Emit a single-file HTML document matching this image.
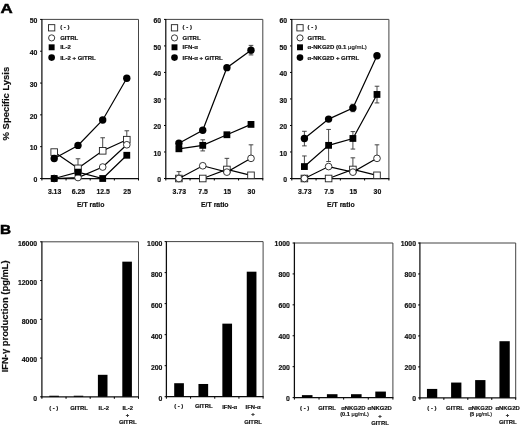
<!DOCTYPE html>
<html lang="en"><head><meta charset="utf-8"><title>Figure</title>
<style>
html,body{margin:0;padding:0;background:#fff;}
body{width:520px;height:425px;overflow:hidden;}
svg{display:block;}
text{font-family:"Liberation Sans", sans-serif;font-weight:bold;fill:#111;stroke:#111;stroke-width:0.18px;}
.tk{font-size:6.9px;}
.xl{font-size:6.9px;}
.lg{font-size:6px;}
.bl{font-size:5.9px;}
.bs{font-size:5.6px;}
.bs2{font-size:5.2px;}
.pl{font-size:13.4px;fill:#000;stroke:#000;stroke-width:0.5px;}
.ax{font-size:9.2px;}
</style></head><body>
<svg width="520" height="425" viewBox="0 0 520 425">
<defs><filter id="soft" x="0" y="0" width="520" height="425" filterUnits="userSpaceOnUse"><feGaussianBlur stdDeviation="0.4"/></filter></defs>
<rect width="520" height="425" fill="#fff"/>
<g filter="url(#soft)">
<text transform="translate(0.4 12.5) scale(1.26 1)" class="pl">A</text>
<text transform="translate(0.1 234.4) scale(1.14 1)" class="pl">B</text>
<text transform="translate(8.5 103.6) rotate(-90)" text-anchor="middle" class="ax" style="font-size:9.45px">% Specific Lysis</text>
<text transform="translate(8.0 316.3) rotate(-90)" text-anchor="middle" class="ax" style="font-size:9.4px">IFN-γ production (pg/mL)</text>
<path d="M41.9 19.4H138.5V178.5" fill="none" stroke="#444" stroke-width="1"/>
<path d="M41.9 19V178.5H139" fill="none" stroke="#111" stroke-width="1.25"/>
<path d="M40.1 178.5H41.9M40.1 146.68H41.9M40.1 114.86H41.9M40.1 83.04H41.9M40.1 51.22H41.9M40.1 19.4H41.9M41.9 178.5V180.5M66.05 178.5V180.5M90.2 178.5V180.5M114.35 178.5V180.5M138.5 178.5V180.5" stroke="#000" stroke-width="1" fill="none"/>
<text x="37.3" y="182.25" text-anchor="end" class="tk">0</text>
<text x="37.3" y="150.43" text-anchor="end" class="tk">10</text>
<text x="37.3" y="118.61" text-anchor="end" class="tk">20</text>
<text x="37.3" y="86.79" text-anchor="end" class="tk">30</text>
<text x="37.3" y="54.97" text-anchor="end" class="tk">40</text>
<text x="37.3" y="23.15" text-anchor="end" class="tk">50</text>
<text x="54.6" y="194.1" text-anchor="middle" class="xl">3.13</text>
<text x="78.4" y="194.1" text-anchor="middle" class="xl">6.25</text>
<text x="103.1" y="194.1" text-anchor="middle" class="xl">12.5</text>
<text x="127.2" y="194.1" text-anchor="middle" class="xl">25</text>
<text x="90.7" y="207.3" text-anchor="middle" class="xl">E/T ratio</text>
<path d="M78 168.32V158.77M75.7 158.77H80.3M102.7 150.82V137.77M100.4 137.77H105M126.8 139.68V130.77M124.5 130.77H129.1" stroke="#333" stroke-width="0.9" fill="none"/>
<polyline points="54.2,152.09 78,168.32 102.7,150.82 126.8,139.68" fill="none" stroke="#000" stroke-width="1.2"/>
<rect x="50.9" y="148.79" width="6.6" height="6.6" fill="#fff" stroke="#222" stroke-width="0.9"/>
<rect x="74.7" y="165.02" width="6.6" height="6.6" fill="#fff" stroke="#222" stroke-width="0.9"/>
<rect x="99.4" y="147.52" width="6.6" height="6.6" fill="#fff" stroke="#222" stroke-width="0.9"/>
<rect x="123.5" y="136.38" width="6.6" height="6.6" fill="#fff" stroke="#222" stroke-width="0.9"/>
<polyline points="54.2,178.5 78,177.55 102.7,167.04 126.8,144.77" fill="none" stroke="#000" stroke-width="1.2"/>
<circle cx="54.2" cy="178.5" r="3.35" fill="#fff" stroke="#222" stroke-width="0.9"/>
<circle cx="78" cy="177.55" r="3.35" fill="#fff" stroke="#222" stroke-width="0.9"/>
<circle cx="102.7" cy="167.04" r="3.35" fill="#fff" stroke="#222" stroke-width="0.9"/>
<circle cx="126.8" cy="144.77" r="3.35" fill="#fff" stroke="#222" stroke-width="0.9"/>
<polyline points="54.2,178.5 78,172.14 102.7,178.5 126.8,155.27" fill="none" stroke="#000" stroke-width="1.2"/>
<rect x="50.8" y="175.1" width="6.8" height="6.8" fill="#000"/>
<rect x="74.6" y="168.74" width="6.8" height="6.8" fill="#000"/>
<rect x="99.3" y="175.1" width="6.8" height="6.8" fill="#000"/>
<rect x="123.4" y="151.87" width="6.8" height="6.8" fill="#000"/>
<polyline points="54.2,158.45 78,145.41 102.7,119.95 126.8,78.27" fill="none" stroke="#000" stroke-width="1.2"/>
<circle cx="54.2" cy="158.45" r="3.7" fill="#000"/>
<circle cx="78" cy="145.41" r="3.7" fill="#000"/>
<circle cx="102.7" cy="119.95" r="3.7" fill="#000"/>
<circle cx="126.8" cy="78.27" r="3.7" fill="#000"/>
<rect x="48.52" y="24.66" width="6.27" height="6.27" fill="#fff" stroke="#222" stroke-width="0.9"/>
<text x="60.2" y="28.7" class="lg">( - )</text>
<circle cx="51.65" cy="37.9" r="3.08" fill="#fff" stroke="#222" stroke-width="0.9"/>
<text x="60.2" y="40.05" class="lg">GITRL</text>
<rect x="48.69" y="44.34" width="5.92" height="5.92" fill="#000"/>
<text x="60.2" y="49.45" class="lg">IL-2</text>
<circle cx="51.65" cy="57.6" r="3.33" fill="#000"/>
<text x="60.2" y="59.75" class="lg">IL-2 + GITRL</text>
<path d="M165.8 19.4H262.8V178.5" fill="none" stroke="#444" stroke-width="1"/>
<path d="M165.8 19V178.5H263.3" fill="none" stroke="#111" stroke-width="1.25"/>
<path d="M164 178.5H165.8M164 151.98H165.8M164 125.47H165.8M164 98.95H165.8M164 72.43H165.8M164 45.92H165.8M164 19.4H165.8M165.8 178.5V180.5M190.05 178.5V180.5M214.3 178.5V180.5M238.55 178.5V180.5M262.8 178.5V180.5" stroke="#000" stroke-width="1" fill="none"/>
<text x="161.2" y="182.25" text-anchor="end" class="tk">0</text>
<text x="161.2" y="155.73" text-anchor="end" class="tk">10</text>
<text x="161.2" y="129.22" text-anchor="end" class="tk">20</text>
<text x="161.2" y="102.7" text-anchor="end" class="tk">30</text>
<text x="161.2" y="76.18" text-anchor="end" class="tk">40</text>
<text x="161.2" y="49.67" text-anchor="end" class="tk">50</text>
<text x="161.2" y="23.15" text-anchor="end" class="tk">60</text>
<text x="179.3" y="194.1" text-anchor="middle" class="xl">3.73</text>
<text x="203.15" y="194.1" text-anchor="middle" class="xl">7.5</text>
<text x="227.3" y="194.1" text-anchor="middle" class="xl">15</text>
<text x="251.4" y="194.1" text-anchor="middle" class="xl">30</text>
<text x="214.8" y="207.3" text-anchor="middle" class="xl">E/T ratio</text>
<path d="M178.9 178.5V171.61M176.6 171.61H181.2M202.75 145.35V139.79M200.45 139.79H205.05M202.75 145.35V150.92M200.45 150.92H205.05M226.9 169.48V158.35M224.6 158.35H229.2M251 158.35V144.82M248.7 144.82H253.3M251 50.16V45.39M248.7 45.39H253.3M251 50.16V54.93M248.7 54.93H253.3" stroke="#333" stroke-width="0.9" fill="none"/>
<polyline points="178.9,178.5 202.75,178.5 226.9,169.48 251,175.32" fill="none" stroke="#000" stroke-width="1.2"/>
<rect x="175.6" y="175.2" width="6.6" height="6.6" fill="#fff" stroke="#222" stroke-width="0.9"/>
<rect x="199.45" y="175.2" width="6.6" height="6.6" fill="#fff" stroke="#222" stroke-width="0.9"/>
<rect x="223.6" y="166.18" width="6.6" height="6.6" fill="#fff" stroke="#222" stroke-width="0.9"/>
<rect x="247.7" y="172.02" width="6.6" height="6.6" fill="#fff" stroke="#222" stroke-width="0.9"/>
<polyline points="178.9,178.5 202.75,165.77 226.9,172.14 251,158.35" fill="none" stroke="#000" stroke-width="1.2"/>
<circle cx="178.9" cy="178.5" r="3.35" fill="#fff" stroke="#222" stroke-width="0.9"/>
<circle cx="202.75" cy="165.77" r="3.35" fill="#fff" stroke="#222" stroke-width="0.9"/>
<circle cx="226.9" cy="172.14" r="3.35" fill="#fff" stroke="#222" stroke-width="0.9"/>
<circle cx="251" cy="158.35" r="3.35" fill="#fff" stroke="#222" stroke-width="0.9"/>
<polyline points="178.9,148.8 202.75,145.35 226.9,134.75 251,124.41" fill="none" stroke="#000" stroke-width="1.2"/>
<rect x="175.5" y="145.4" width="6.8" height="6.8" fill="#000"/>
<rect x="199.35" y="141.95" width="6.8" height="6.8" fill="#000"/>
<rect x="223.5" y="131.35" width="6.8" height="6.8" fill="#000"/>
<rect x="247.6" y="121.01" width="6.8" height="6.8" fill="#000"/>
<polyline points="178.9,143.23 202.75,130.24 226.9,67.66 251,50.16" fill="none" stroke="#000" stroke-width="1.2"/>
<circle cx="178.9" cy="143.23" r="3.7" fill="#000"/>
<circle cx="202.75" cy="130.24" r="3.7" fill="#000"/>
<circle cx="226.9" cy="67.66" r="3.7" fill="#000"/>
<circle cx="251" cy="50.16" r="3.7" fill="#000"/>
<rect x="171.37" y="24.66" width="6.27" height="6.27" fill="#fff" stroke="#222" stroke-width="0.9"/>
<text x="182.6" y="28.7" class="lg">( - )</text>
<circle cx="174.5" cy="37.9" r="3.08" fill="#fff" stroke="#222" stroke-width="0.9"/>
<text x="182.6" y="40.05" class="lg">GITRL</text>
<rect x="171.54" y="44.34" width="5.92" height="5.92" fill="#000"/>
<text x="182.6" y="49.45" class="lg">IFN-α</text>
<circle cx="174.5" cy="57.6" r="3.33" fill="#000"/>
<text x="182.6" y="59.75" class="lg">IFN-α + GITRL</text>
<path d="M291.8 19.4H388.9V178.5" fill="none" stroke="#444" stroke-width="1"/>
<path d="M291.8 19V178.5H389.4" fill="none" stroke="#111" stroke-width="1.25"/>
<path d="M290 178.5H291.8M290 151.98H291.8M290 125.47H291.8M290 98.95H291.8M290 72.43H291.8M290 45.92H291.8M290 19.4H291.8M291.8 178.5V180.5M316.07 178.5V180.5M340.35 178.5V180.5M364.62 178.5V180.5M388.9 178.5V180.5" stroke="#000" stroke-width="1" fill="none"/>
<text x="287.2" y="182.25" text-anchor="end" class="tk">0</text>
<text x="287.2" y="155.73" text-anchor="end" class="tk">10</text>
<text x="287.2" y="129.22" text-anchor="end" class="tk">20</text>
<text x="287.2" y="102.7" text-anchor="end" class="tk">30</text>
<text x="287.2" y="76.18" text-anchor="end" class="tk">40</text>
<text x="287.2" y="49.67" text-anchor="end" class="tk">50</text>
<text x="287.2" y="23.15" text-anchor="end" class="tk">60</text>
<text x="304.8" y="194.1" text-anchor="middle" class="xl">3.73</text>
<text x="329" y="194.1" text-anchor="middle" class="xl">7.5</text>
<text x="353.3" y="194.1" text-anchor="middle" class="xl">15</text>
<text x="377.4" y="194.1" text-anchor="middle" class="xl">30</text>
<text x="340.85" y="207.3" text-anchor="middle" class="xl">E/T ratio</text>
<path d="M304.4 138.46V131.3M302.1 131.3H306.7M304.4 138.46V145.88M302.1 145.88H306.7M304.4 166.57V155.96M302.1 155.96H306.7M328.6 145.35V129.44M326.3 129.44H330.9M328.6 145.35V161.53M326.3 161.53H330.9M352.9 138.46V131.57M350.6 131.57H355.2M352.9 138.46V149.07M350.6 149.07H355.2M352.9 107.97V104.25M350.6 104.25H355.2M352.9 107.97V111.68M350.6 111.68H355.2M352.9 169.48V157.82M350.6 157.82H355.2M377 158.35V144.82M374.7 144.82H379.3M377 94.44V86.22M374.7 86.22H379.3M377 94.44V102.93M374.7 102.93H379.3" stroke="#333" stroke-width="0.9" fill="none"/>
<polyline points="304.4,178.5 328.6,178.5 352.9,169.48 377,175.32" fill="none" stroke="#000" stroke-width="1.2"/>
<rect x="301.1" y="175.2" width="6.6" height="6.6" fill="#fff" stroke="#222" stroke-width="0.9"/>
<rect x="325.3" y="175.2" width="6.6" height="6.6" fill="#fff" stroke="#222" stroke-width="0.9"/>
<rect x="349.6" y="166.18" width="6.6" height="6.6" fill="#fff" stroke="#222" stroke-width="0.9"/>
<rect x="373.7" y="172.02" width="6.6" height="6.6" fill="#fff" stroke="#222" stroke-width="0.9"/>
<polyline points="304.4,178.5 328.6,166.57 352.9,172.14 377,158.35" fill="none" stroke="#000" stroke-width="1.2"/>
<circle cx="304.4" cy="178.5" r="3.35" fill="#fff" stroke="#222" stroke-width="0.9"/>
<circle cx="328.6" cy="166.57" r="3.35" fill="#fff" stroke="#222" stroke-width="0.9"/>
<circle cx="352.9" cy="172.14" r="3.35" fill="#fff" stroke="#222" stroke-width="0.9"/>
<circle cx="377" cy="158.35" r="3.35" fill="#fff" stroke="#222" stroke-width="0.9"/>
<polyline points="304.4,166.57 328.6,145.35 352.9,138.46 377,94.44" fill="none" stroke="#000" stroke-width="1.2"/>
<rect x="301" y="163.17" width="6.8" height="6.8" fill="#000"/>
<rect x="325.2" y="141.95" width="6.8" height="6.8" fill="#000"/>
<rect x="349.5" y="135.06" width="6.8" height="6.8" fill="#000"/>
<rect x="373.6" y="91.04" width="6.8" height="6.8" fill="#000"/>
<polyline points="304.4,138.46 328.6,119.1 352.9,107.97 377,55.73" fill="none" stroke="#000" stroke-width="1.2"/>
<circle cx="304.4" cy="138.46" r="3.7" fill="#000"/>
<circle cx="328.6" cy="119.1" r="3.7" fill="#000"/>
<circle cx="352.9" cy="107.97" r="3.7" fill="#000"/>
<circle cx="377" cy="55.73" r="3.7" fill="#000"/>
<rect x="296.87" y="24.66" width="6.27" height="6.27" fill="#fff" stroke="#222" stroke-width="0.9"/>
<text x="307.6" y="28.7" class="lg">( - )</text>
<circle cx="300" cy="37.9" r="3.08" fill="#fff" stroke="#222" stroke-width="0.9"/>
<text x="307.6" y="40.05" class="lg">GITRL</text>
<rect x="297.04" y="44.34" width="5.92" height="5.92" fill="#000"/>
<text x="307.6" y="49.45" class="lg">α-NKG2D (0.1 <tspan style="font-weight:normal">μg/mL)</tspan></text>
<circle cx="300" cy="57.6" r="3.33" fill="#000"/>
<text x="307.6" y="59.75" class="lg">α-NKG2D + GITRL</text>
<path d="M41.9 241.8H138.5V396.8" fill="none" stroke="#444" stroke-width="1"/>
<path d="M41.9 241.4V396.8H139" fill="none" stroke="#111" stroke-width="1.25"/>
<path d="M40.1 396.8H41.9M40.1 358.05H41.9M40.1 319.3H41.9M40.1 280.55H41.9M40.1 241.8H41.9M41.9 396.8V398.8M66.05 396.8V398.8M90.2 396.8V398.8M114.35 396.8V398.8M138.5 396.8V398.8" stroke="#000" stroke-width="1" fill="none"/>
<text x="37.1" y="401.15" text-anchor="end" class="tk">0</text>
<text x="37.1" y="362.4" text-anchor="end" class="tk">4000</text>
<text x="37.1" y="323.65" text-anchor="end" class="tk">8000</text>
<text x="37.1" y="284.9" text-anchor="end" class="tk">12000</text>
<text x="37.1" y="246.15" text-anchor="end" class="tk">16000</text>
<rect x="49.3" y="395.73" width="9.6" height="1.07" fill="#000"/>
<rect x="73.7" y="395.73" width="9.6" height="1.07" fill="#000"/>
<rect x="97.9" y="374.81" width="9.6" height="21.99" fill="#000"/>
<rect x="122.3" y="261.66" width="9.6" height="135.14" fill="#000"/>
<text x="53.75" y="410.1" text-anchor="middle" class="bl">( - )</text>
<text x="79.1" y="410.1" text-anchor="middle" class="bl">GITRL</text>
<text x="103.75" y="410.1" text-anchor="middle" class="bl">IL-2</text>
<text x="127.7" y="410.1" text-anchor="middle" class="bl">IL-2</text>
<text x="127.5" y="417.2" text-anchor="middle" class="bl">+</text>
<text x="127.75" y="424.25" text-anchor="middle" class="bl">GITRL</text>
<path d="M166.4 241.6H263.1V396.7" fill="none" stroke="#444" stroke-width="1"/>
<path d="M166.4 241.2V396.7H263.6" fill="none" stroke="#111" stroke-width="1.25"/>
<path d="M164.6 396.7H166.4M164.6 365.68H166.4M164.6 334.66H166.4M164.6 303.64H166.4M164.6 272.62H166.4M164.6 241.6H166.4M166.4 396.7V398.7M190.58 396.7V398.7M214.75 396.7V398.7M238.93 396.7V398.7M263.1 396.7V398.7" stroke="#000" stroke-width="1" fill="none"/>
<text x="162.4" y="400.95" text-anchor="end" class="tk">0</text>
<text x="162.4" y="369.93" text-anchor="end" class="tk">200</text>
<text x="162.4" y="338.91" text-anchor="end" class="tk">400</text>
<text x="162.4" y="307.89" text-anchor="end" class="tk">600</text>
<text x="162.4" y="276.87" text-anchor="end" class="tk">800</text>
<text x="162.4" y="245.85" text-anchor="end" class="tk">1000</text>
<rect x="174.2" y="383.21" width="9.7" height="13.49" fill="#000"/>
<rect x="198.45" y="383.98" width="9.7" height="12.72" fill="#000"/>
<rect x="222.35" y="323.65" width="9.7" height="73.05" fill="#000"/>
<rect x="246.75" y="271.69" width="9.7" height="125.01" fill="#000"/>
<text x="178.75" y="408.3" text-anchor="middle" class="bl">( - )</text>
<text x="203.75" y="408.4" text-anchor="middle" class="bl">GITRL</text>
<text x="229.7" y="408.7" text-anchor="middle" class="bl">IFN-α</text>
<text x="253.1" y="408.7" text-anchor="middle" class="bl">IFN-α</text>
<text x="253.1" y="416" text-anchor="middle" class="bl">+</text>
<text x="253" y="423.5" text-anchor="middle" class="bl">GITRL</text>
<path d="M294.4 243H392.9V397.6" fill="none" stroke="#444" stroke-width="1"/>
<path d="M294.4 242.6V397.6H393.4" fill="none" stroke="#111" stroke-width="1.25"/>
<path d="M292.6 397.6H294.4M292.6 366.68H294.4M292.6 335.76H294.4M292.6 304.84H294.4M292.6 273.92H294.4M292.6 243H294.4M294.4 397.6V399.6M319.02 397.6V399.6M343.65 397.6V399.6M368.27 397.6V399.6M392.9 397.6V399.6" stroke="#000" stroke-width="1" fill="none"/>
<text x="289.9" y="400.55" text-anchor="end" class="tk">0</text>
<text x="289.9" y="369.63" text-anchor="end" class="tk">200</text>
<text x="289.9" y="338.71" text-anchor="end" class="tk">400</text>
<text x="289.9" y="307.79" text-anchor="end" class="tk">600</text>
<text x="289.9" y="276.87" text-anchor="end" class="tk">800</text>
<text x="289.9" y="245.95" text-anchor="end" class="tk">1000</text>
<rect x="301.9" y="395.13" width="10.6" height="2.47" fill="#000"/>
<rect x="326.9" y="394.2" width="10.6" height="3.4" fill="#000"/>
<rect x="351" y="394.2" width="10.6" height="3.4" fill="#000"/>
<rect x="375.3" y="391.57" width="10.6" height="6.03" fill="#000"/>
<text x="304.7" y="410.4" text-anchor="middle" class="bl">( - )</text>
<text x="327" y="410.4" text-anchor="middle" class="bl">GITRL</text>
<text x="353.3" y="410.2" text-anchor="middle" class="bl">αNKG2D</text>
<text x="354.6" y="416.2" text-anchor="middle" class="bs">(0.1 <tspan style="font-weight:normal">μg/mL)</tspan></text>
<text x="379.7" y="410.2" text-anchor="middle" class="bl">αNKG2D</text>
<text x="380" y="417.85" text-anchor="middle" class="bl">+</text>
<text x="380" y="424.9" text-anchor="middle" class="bl">GITRL</text>
<path d="M419.9 243H515.7V397.9" fill="none" stroke="#444" stroke-width="1"/>
<path d="M419.9 242.6V397.9H516.2" fill="none" stroke="#111" stroke-width="1.25"/>
<path d="M418.1 397.9H419.9M418.1 366.92H419.9M418.1 335.94H419.9M418.1 304.96H419.9M418.1 273.98H419.9M418.1 243H419.9M419.9 397.9V399.9M443.85 397.9V399.9M467.8 397.9V399.9M491.75 397.9V399.9M515.7 397.9V399.9" stroke="#000" stroke-width="1" fill="none"/>
<text x="416" y="400.6" text-anchor="end" class="tk">0</text>
<text x="416" y="369.62" text-anchor="end" class="tk">200</text>
<text x="416" y="338.64" text-anchor="end" class="tk">400</text>
<text x="416" y="307.66" text-anchor="end" class="tk">600</text>
<text x="416" y="276.68" text-anchor="end" class="tk">800</text>
<text x="416" y="245.7" text-anchor="end" class="tk">1000</text>
<rect x="426.95" y="388.92" width="10.3" height="8.98" fill="#000"/>
<rect x="451.1" y="382.56" width="10.3" height="15.34" fill="#000"/>
<rect x="475.15" y="380.09" width="10.3" height="17.81" fill="#000"/>
<rect x="499.45" y="341.21" width="10.3" height="56.69" fill="#000"/>
<text x="431.9" y="410.3" text-anchor="middle" class="bl">( - )</text>
<text x="454.9" y="409.9" text-anchor="middle" class="bl">GITRL</text>
<text x="480.3" y="409.8" text-anchor="middle" class="bl">αNKG2D</text>
<text x="480.8" y="415.7" text-anchor="middle" class="bs2">(5 <tspan style="font-weight:normal">μg/mL)</tspan></text>
<text x="507.6" y="409.8" text-anchor="middle" class="bl">αNKG2D</text>
<text x="507.5" y="417" text-anchor="middle" class="bl">+</text>
<text x="507.8" y="423.9" text-anchor="middle" class="bl">GITRL</text>
</g>
</svg>
</body></html>
